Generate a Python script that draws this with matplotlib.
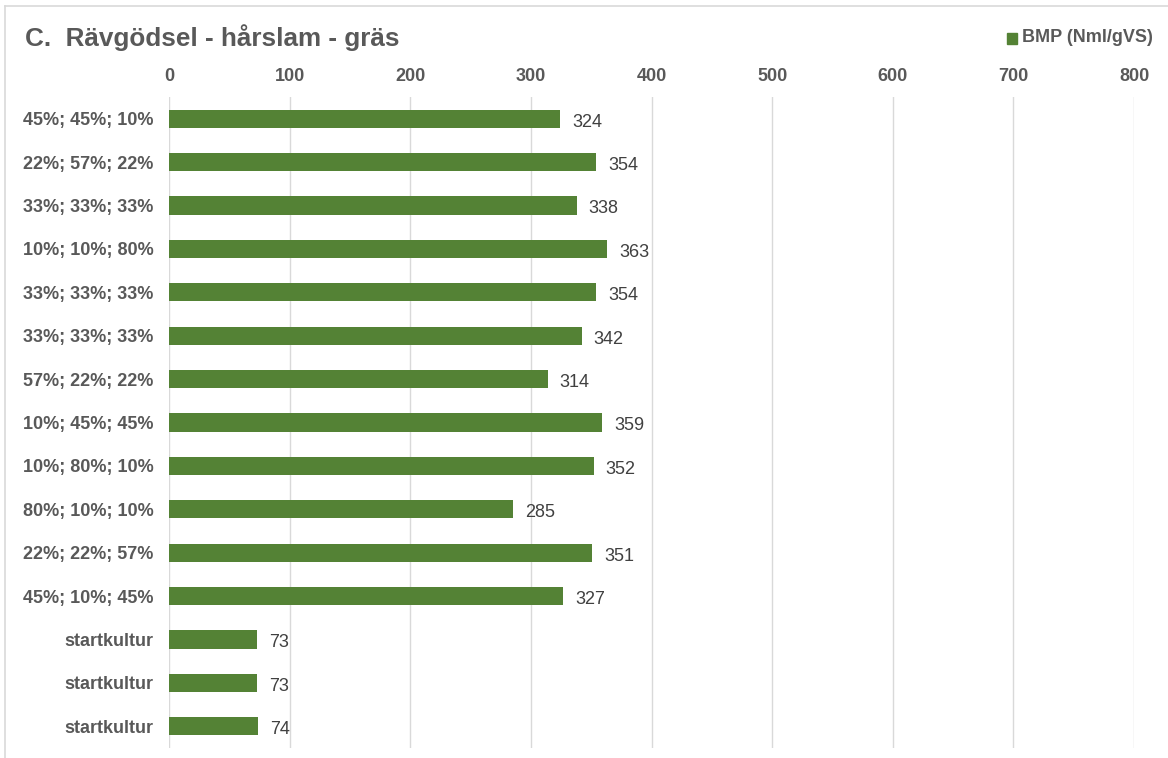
import matplotlib
matplotlib.use("Agg")
import matplotlib.pyplot as plt
from matplotlib.lines import Line2D
from matplotlib.patches import Rectangle

plt.rcParams['font.family'] = ['Liberation Sans', 'DejaVu Sans']

categories = [
    "45%; 45%; 10%", "22%; 57%; 22%", "33%; 33%; 33%", "10%; 10%; 80%",
    "33%; 33%; 33%", "33%; 33%; 33%", "57%; 22%; 22%", "10%; 45%; 45%",
    "10%; 80%; 10%", "80%; 10%; 10%", "22%; 22%; 57%", "45%; 10%; 45%",
    "startkultur", "startkultur", "startkultur",
]
bmp = [324, 354, 338, 363, 354, 342, 314, 359, 352, 285, 351, 327, 73, 73, 74]
x_ticks = [0, 100, 200, 300, 400, 500, 600, 700, 800]

title = "C.  Rävgödsel - hårslam - gräs"
series_name = "BMP (Nml/gVS)"

bar_color = "#548235"
text_dark = "#595959"
W, H = 1168, 758

fig = plt.figure(figsize=(W / 100, H / 100), dpi=100)
ax = fig.add_axes([169 / W, 1 - 748 / H, (1134 - 169) / W, (748 - 97) / H])

pos = list(range(len(categories)))
ax.barh(pos, bmp, height=0.42, color=bar_color, zorder=3)
for p, v in zip(pos, bmp):
    ax.text(v + 10, p + 0.08, f"{v}", va="center", ha="left", fontsize=13, color="#404040")

ax.set_ylim(len(categories) - 0.5, -0.5)
ax.set_xlim(0, 800)
ax.set_yticks(pos)
ax.set_yticklabels(categories, fontsize=13, fontweight="bold", color=text_dark)
ax.set_xticks(x_ticks)
ax.set_xticklabels([str(t) for t in x_ticks], fontsize=13, fontweight="bold", color=text_dark)
ax.xaxis.tick_top()
ax.tick_params(axis="both", length=0)
ax.tick_params(axis="x", pad=9)
ax.tick_params(axis="y", pad=11)
ax.grid(axis="x", color="#d9d9d9", linewidth=1, zorder=0)
for s in ax.spines.values():
    s.set_visible(False)

# chart frame
fig.add_artist(Line2D([5 / W, 1.0], [1 - 6 / H, 1 - 6 / H], color="#d9d9d9", linewidth=1.2))
fig.add_artist(Line2D([5 / W, 5 / W], [0, 1 - 6 / H], color="#d9d9d9", linewidth=1.2))

fig.text(25 / W, 1 - 38 / H, title, fontsize=18.8, fontweight="bold", color=text_dark, va="center", ha="left")

# legend
fig.add_artist(Rectangle((1007 / W, 1 - 44 / H), 10 / W, 11 / H, color=bar_color, transform=fig.transFigure))
fig.text(1022 / W, 1 - 38 / H, series_name, fontsize=13, fontweight="bold", color=text_dark, va="center", ha="left")

fig.savefig("out.png", dpi=100, facecolor="white")
